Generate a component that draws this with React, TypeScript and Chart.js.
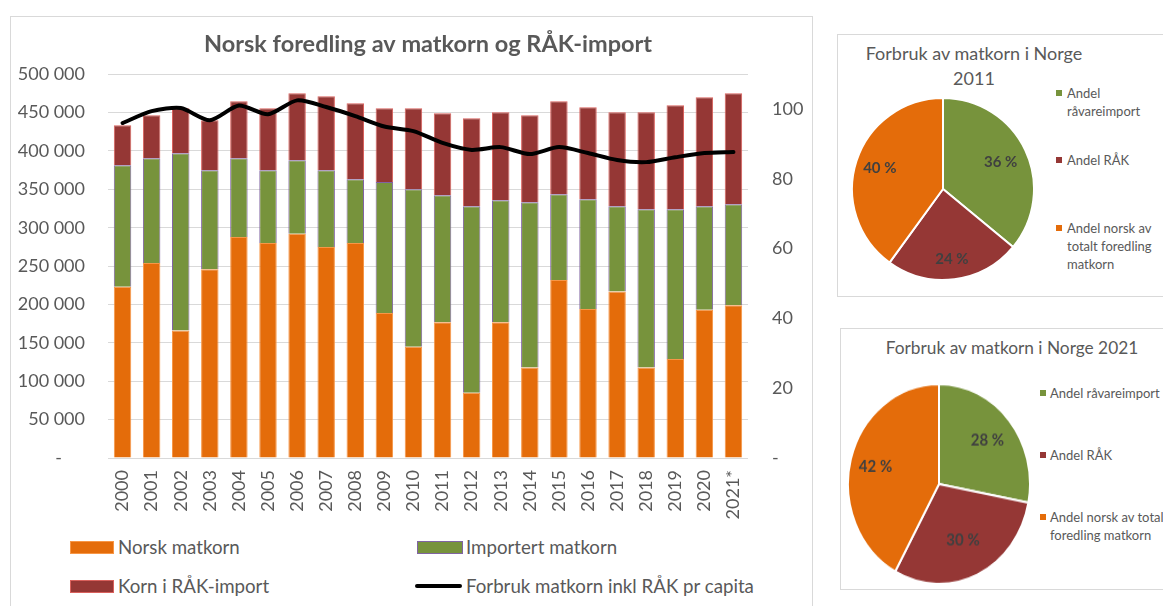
import React, { useEffect, useRef } from "react";
import { Chart, registerables } from "chart.js";

Chart.register(...registerables);

const FONT = "Lato, 'Open Sans', sans-serif";
const TEXT = "#595959";

const years = ["2000", "2001", "2002", "2003", "2004", "2005", "2006", "2007", "2008", "2009", "2010", "2011", "2012", "2013", "2014", "2015", "2016", "2017", "2018", "2019", "2020", "2021*"];
const norskMatkorn = [223000, 254000, 166000, 246000, 288000, 280000, 292000, 275000, 280000, 189000, 145000, 177000, 85000, 177000, 118000, 232000, 194000, 217000, 118000, 129000, 193000, 199000];
const importertMatkorn = [158500, 136600, 231100, 129000, 102600, 95000, 96000, 100000, 83300, 170400, 205200, 165400, 243100, 158900, 215300, 111700, 143200, 111100, 206200, 195200, 135100, 131700];
const kornRakImport = [52100, 56000, 58600, 65000, 74200, 80700, 87200, 96300, 98900, 96300, 105500, 106800, 114600, 114600, 113300, 121100, 119800, 122400, 126300, 135400, 141900, 144500];
const forbrukPerCapita = [96.0, 99.4, 100.3, 96.8, 101.0, 98.5, 102.5, 100.6, 98.0, 95.0, 93.7, 90.3, 88.3, 89.1, 87.1, 89.1, 87.4, 85.4, 84.8, 86.2, 87.4, 87.7];

const leftTicks = { min: 0, max: 500000, step: 50000 };
const rightTicks = { min: 0, max: 110, step: 20, lastShown: 100 };

const pieLabels = ["Andel råvareimport", "Andel RÅK", "Andel norsk av totalt foredling matkorn"];
const pie2011 = [36, 24, 40];
const pie2021 = [28, 30, 42];

const ORANGE = "#E46C0A";
const GREEN = "#77933C";
const RED = "#953735";
const pieColors = [GREEN, RED, ORANGE];

const fmtThousands = (v: number) =>
  v === 0 ? "-     " : String(v).replace(/\B(?=(\d{3})+(?!\d))/g, " ");

const pieLabelPlugin = {
  id: "pieLabels",
  afterDatasetsDraw(chart: any, _args: any, opts: any) {
    const ctx = chart.ctx;
    const meta = chart.getDatasetMeta(0);
    const data = chart.data.datasets[0].data as number[];
    ctx.save();
    ctx.font = `bold 15px ${FONT}`;
    ctx.fillStyle = "#404040";
    ctx.textAlign = "center";
    ctx.textBaseline = "middle";
    meta.data.forEach((arc: any, i: number) => {
      const mid = (arc.startAngle + arc.endAngle) / 2;
      const f = (opts.fractions && opts.fractions[i]) || 0.7;
      const r = arc.outerRadius * f;
      ctx.fillText(`${data[i]} %`, arc.x + Math.cos(mid) * r, arc.y + Math.sin(mid) * r);
    });
    ctx.restore();
  },
};

function makePie(canvas: HTMLCanvasElement, values: number[], fractions: number[]) {
  return new Chart(canvas, {
    type: "pie",
    data: {
      labels: pieLabels,
      datasets: [
        {
          data: values,
          backgroundColor: pieColors,
          borderColor: "#FFFFFF",
          borderWidth: 2,
        },
      ],
    },
    options: {
      responsive: false,
      animation: false,
      layout: { padding: 0 },
      plugins: {
        legend: { display: false },
        tooltip: { enabled: false },
        pieLabels: { fractions },
      } as any,
    },
    plugins: [pieLabelPlugin],
  });
}

export default function App() {
  const mainRef = useRef<HTMLCanvasElement>(null);
  const pie1Ref = useRef<HTMLCanvasElement>(null);
  const pie2Ref = useRef<HTMLCanvasElement>(null);

  useEffect(() => {
    const charts: Chart[] = [];
    const tickFont = { family: FONT, size: 18 };
    charts.push(
      new Chart(mainRef.current!, {
        type: "bar",
        data: {
          labels: years,
          datasets: [
            {
              type: "line",
              label: "Forbruk matkorn inkl RÅK pr capita",
              data: forbrukPerCapita,
              yAxisID: "y1",
              borderColor: "#000000",
              backgroundColor: "#000000",
              borderWidth: 4,
              pointRadius: 0,
              tension: 0.25,
              borderCapStyle: "round",
              borderJoinStyle: "round",
              order: 0,
            } as any,
            {
              label: "Norsk matkorn",
              data: norskMatkorn,
              backgroundColor: ORANGE,
              borderColor: "#F79646",
              borderWidth: 1,
              yAxisID: "y",
              order: 1,
            },
            {
              label: "Importert matkorn",
              data: importertMatkorn,
              backgroundColor: GREEN,
              borderColor: "#8064A2",
              borderWidth: 1,
              yAxisID: "y",
              order: 1,
            },
            {
              label: "Korn i RÅK-import",
              data: kornRakImport,
              backgroundColor: RED,
              borderColor: "#D9605C",
              borderWidth: 1,
              yAxisID: "y",
              order: 1,
            },
          ],
        },
        options: {
          responsive: false,
          animation: false,
          layout: { padding: 0 },
          datasets: { bar: { barPercentage: 0.6, categoryPercentage: 1 } },
          plugins: {
            legend: { display: false },
            tooltip: { enabled: false },
            title: {
              display: true,
              fullSize: false,
              text: "Norsk foredling av matkorn og RÅK-import",
              color: TEXT,
              font: { family: FONT, size: 23.5, weight: "bold" },
              padding: { top: 13, bottom: 16 },
            },
          },
          scales: {
            x: {
              stacked: true,
              grid: { display: false, drawTicks: false },
              border: { display: false },
              ticks: { minRotation: 90, maxRotation: 90, padding: 12, color: TEXT, font: tickFont, autoSkip: false },
              afterFit: (s: any) => {
                s.height = 69;
              },
            },
            y: {
              stacked: true,
              position: "left",
              min: leftTicks.min,
              max: leftTicks.max,
              ticks: {
                stepSize: leftTicks.step,
                padding: 23,
                color: TEXT,
                font: tickFont,
                callback: (v: any) => fmtThousands(Number(v)),
              },
              grid: { color: "#D9D9D9", drawTicks: false, lineWidth: 1 },
              border: { display: false },
              afterFit: (s: any) => {
                s.width = 97;
              },
            },
            y1: {
              position: "right",
              min: rightTicks.min,
              max: rightTicks.max,
              ticks: {
                stepSize: rightTicks.step,
                padding: 24,
                color: TEXT,
                font: tickFont,
                callback: (v: any) => (Number(v) === 0 ? "-" : Number(v) > rightTicks.lastShown ? "" : String(v)),
              },
              grid: { display: false, drawTicks: false },
              border: { display: false },
              afterFit: (s: any) => {
                s.width = 63;
              },
            },
          },
        } as any,
      })
    );
    charts.push(makePie(pie1Ref.current!, pie2011, [0.7, 0.78, 0.73]));
    charts.push(makePie(pie2Ref.current!, pie2021, [0.69, 0.62, 0.72]));
    return () => charts.forEach((c) => c.destroy());
  }, []);

  const abs = (extra: React.CSSProperties): React.CSSProperties => ({ position: "absolute", ...extra });
  const legendText: React.CSSProperties = { fontSize: 18.7, color: TEXT, lineHeight: "22px", whiteSpace: "nowrap" };
  const pieLegText: React.CSSProperties = { fontSize: 13, color: TEXT, lineHeight: "18px", whiteSpace: "nowrap" };

  const pieLegend = (
    left: number,
    markerLeft: number,
    items: { lines: string[]; top: number; color: string }[]
  ) =>
    items.map((it, i) => (
      <React.Fragment key={i}>
        <div style={abs({ left: markerLeft, top: it.top + 6, width: 6, height: 6, background: it.color })} />
        <div style={abs({ left, top: it.top, ...pieLegText })}>
          {it.lines.map((l, j) => (
            <div key={j}>{l}</div>
          ))}
        </div>
      </React.Fragment>
    ));

  return (
    <div
      style={{
        position: "absolute",
        left: 0,
        top: 0,
        width: 1163,
        height: 606,
        overflow: "hidden",
        background: "#FFFFFF",
        fontFamily: FONT,
      }}
    >
      {/* main chart box */}
      <div style={abs({ left: 10, top: 16, width: 801, height: 640, border: "1px solid #D9D9D9" })} />
      <canvas ref={mainRef} width={800} height={510} style={abs({ left: 11, top: 17, width: 800, height: 510 })} />

      {/* main legend */}
      <div style={abs({ left: 70, top: 541, width: 42, height: 11, background: ORANGE, border: "1px solid #F79646" })} />
      <div style={abs({ left: 118, top: 536, ...legendText })}>Norsk matkorn</div>
      <div style={abs({ left: 70, top: 580, width: 42, height: 11, background: RED, border: "1px solid #D9605C" })} />
      <div style={abs({ left: 118, top: 575, ...legendText })}>Korn i RÅK-import</div>
      <div style={abs({ left: 417, top: 541, width: 44, height: 11, background: GREEN, border: "1px solid #8064A2" })} />
      <div style={abs({ left: 466, top: 536, ...legendText })}>Importert matkorn</div>
      <div style={abs({ left: 415, top: 584, width: 47, height: 4, background: "#000000", borderRadius: 2 })} />
      <div style={abs({ left: 466, top: 575, ...legendText })}>Forbruk matkorn inkl RÅK pr capita</div>

      {/* pie 2011 box */}
      <div style={abs({ left: 837, top: 34, width: 400, height: 261, border: "1px solid #D9D9D9" })} />
      <div style={abs({ left: 824, top: 41, width: 300, textAlign: "center", fontSize: 18, color: TEXT, lineHeight: "25px" })}>
        <div>Forbruk av matkorn i Norge</div>
        <div>2011</div>
      </div>
      <canvas ref={pie1Ref} width={184} height={184} style={abs({ left: 851, top: 97, width: 184, height: 184 })} />
      {pieLegend(1067, 1056, [
        { lines: ["Andel", "råvareimport"], top: 84, color: GREEN },
        { lines: ["Andel RÅK"], top: 151, color: RED },
        { lines: ["Andel norsk av", "totalt foredling", "matkorn"], top: 219, color: ORANGE },
      ])}

      {/* pie 2021 box */}
      <div style={abs({ left: 840, top: 328, width: 400, height: 260, border: "1px solid #D9D9D9" })} />
      <div style={abs({ left: 862, top: 335, width: 300, textAlign: "center", fontSize: 17.3, color: TEXT, lineHeight: "25px" })}>
        Forbruk av matkorn i Norge 2021
      </div>
      <canvas ref={pie2Ref} width={184} height={184} style={abs({ left: 847, top: 383, width: 184, height: 202 })} />
      {pieLegend(1050, 1040, [
        { lines: ["Andel råvareimport"], top: 384, color: GREEN },
        { lines: ["Andel RÅK"], top: 446, color: RED },
        { lines: ["Andel norsk av totalt", "foredling matkorn"], top: 508, color: ORANGE },
      ])}
    </div>
  );
}
